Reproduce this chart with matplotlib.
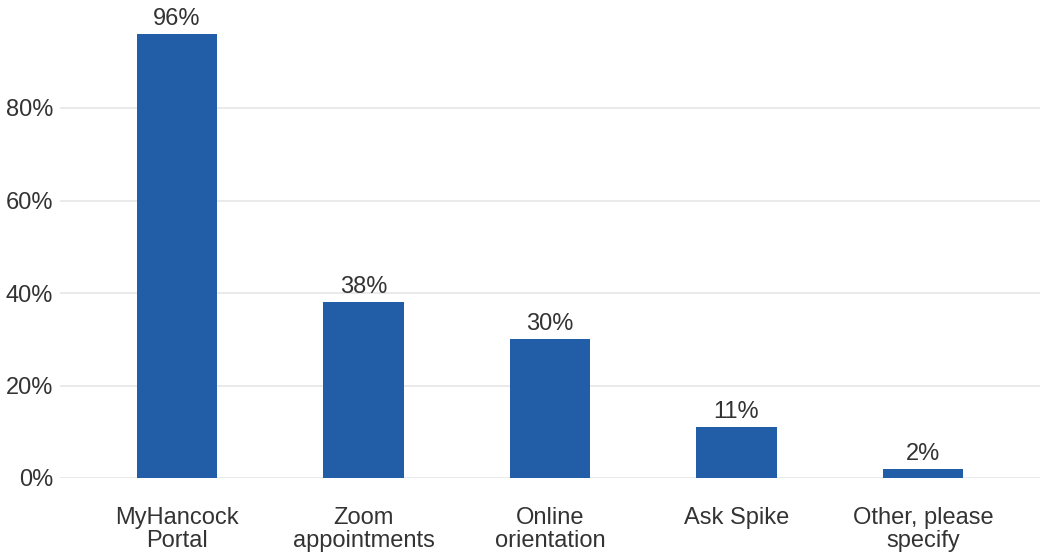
import matplotlib
matplotlib.use("Agg")
import matplotlib.pyplot as plt

categories = ["MyHancock\nPortal", "Zoom\nappointments", "Online\norientation", "Ask Spike", "Other, please\nspecify"]
values = [96, 38, 30, 11, 2]
yticks = [0, 20, 40, 60, 80]
ytick_labels = ["0%", "20%", "40%", "60%", "80%"]

plt.rcParams['font.family'] = ['Liberation Sans', 'DejaVu Sans']
text_color = "#333333"
bar_color = "#225EA8"
fs = 17

fig = plt.figure(figsize=(10.49, 5.59), dpi=100)
ax = fig.add_axes([60/1049, 81/559, 980/1049, 478/559])
x = list(range(len(categories)))
bars = ax.bar(x, values, width=0.43, color=bar_color, zorder=3)
for xi, v in zip(x, values):
    ax.annotate(f"{v}%", (xi, v), xytext=(0, 3), textcoords="offset points",
                ha="center", va="bottom", fontsize=fs, color=text_color)
ax.set_xlim(-0.627, 4.627)
ax.set_ylim(0, 478/4.625)
ax.set_yticks(yticks)
ax.set_yticklabels(ytick_labels)
ax.set_xticks(x)
ax.set_xticklabels(categories, linespacing=1.05)
ax.tick_params(axis="y", length=0, pad=5, labelsize=fs, labelcolor=text_color)
ax.tick_params(axis="x", length=0, pad=21, labelsize=fs, labelcolor=text_color)
ax.grid(axis="y", color="#e6e6e6", linewidth=1.2, zorder=0)
for s in ax.spines.values():
    s.set_visible(False)
fig.savefig("out.png", dpi=100)
